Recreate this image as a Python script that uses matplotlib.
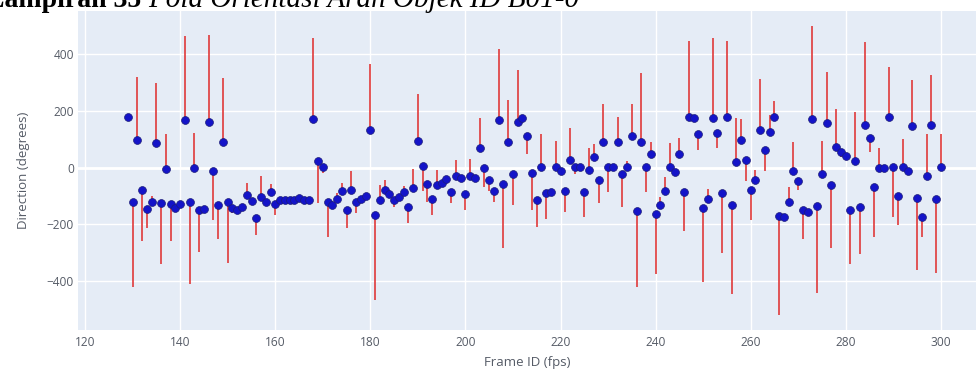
import matplotlib
matplotlib.use("Agg")
import matplotlib.pyplot as plt
import numpy as np

# =============================================================================
# DATA
# =============================================================================
frame_ids = np.arange(129, 301)

direction = [
    178, -121, 99, -80, -146, -122, 88, -125, -4, -129,          # 129-138
    -141, -127, 169, -122, 0, -151, -146, 162, -12, -133,        # 139-148
    91, -122, -144, -151, -140, -98, -116, -176, -102, -120,     # 149-158
    -87, -127, -115, -115, -115, -115, -106, -115, -115, 172,    # 159-168
    24, 2, -121, -131, -112, -84, -148, -80, -121, -111,         # 169-178
    -99, 133, -167, -115, -79, -92, -115, -105, -85, -139,       # 179-188
    -72, 94, 7, -56, -111, -60, -54, -40, -85, -28,              # 189-198
    -38, -94, -31, -35, 69, 0, -42, -81, 168, -56,               # 199-208
    91, -21, 162, 176, 113, -18, -114, 1, -89, -87,              # 209-218
    4, -12, -84, 27, 2, 1, -87, -8, 36, -42,                     # 219-228
    91, 2, 2, 91, -24, 2, 112, -154, 89, 1,                      # 229-238
    47, -165, -133, -84, 2, -14, 47, -87, 179, 174,              # 239-248
    119, -141, -109, 174, 121, -89, 179, -133, 21, 96,           # 249-258
    26, -80, -44, 134, 62, 125, 179, -169, -173, -120,           # 259-268
    -13, -46, -148, -155, 171, -135, -21, 159, -61, 73,          # 269-278
    54, 41, -149, 24, -140, 152, 104, -69, -1, 0,                # 279-288
    178, 4, -99, 2, -13, 147, -106, -175, -28, 149,              # 289-298
    -111, 4,                                                     # 299-300
]

# end of the red line drawn from each point (same value = no line)
line_end = [
    178, -420, 320, -259, -212, -99, 299, -341, 119, -258,
    -141, -127, 466, -412, 122, -299, -146, 468, -185, -253,
    315, -335, -161, -151, -140, -55, -132, -238, -29, -120,
    -58, -166, -115, -115, -115, -115, -106, -115, -115, 459,
    -124, -18, -244, -131, -91, -55, -213, -12, -161, -111,
    -99, 365, -467, -61, -44, -92, -138, -105, -65, -194,
    -6, 260, -81, -120, -167, -9, -54, -28, -126, 27,
    -38, -149, 29, -35, 174, -69, -82, -120, 418, -282,
    238, -132, 346, 176, 47, -149, -208, 118, -182, -87,
    93, -22, -156, 139, -24, 1, -173, 71, 84, -124,
    224, -87, 2, 180, -138, 25, 224, -420, 333, -87,
    92, -375, -102, -34, 88, -28, 106, -222, 446, 174,
    62, -405, -76, 459, 68, -300, 448, -447, 174, 171,
    -46, -186, -7, 312, -12, 186, 234, -520, -173, -67,
    92, -79, -252, -155, 499, -444, 94, 339, -285, 208,
    36, 41, -340, 196, -305, 444, 54, -244, 69, 0,
    354, -173, -201, 102, -27, 308, -361, -244, 119, 327,
    -372, 119,
]

x_ticks = [120, 140, 160, 180, 200, 220, 240, 260, 280, 300]
y_ticks = [-400, -200, 0, 200, 400]

TITLE_BOLD = "Lampiran 35 "
TITLE_ITALIC = "Pola Orientasi Arah Objek ID B01-0"
X_LABEL = "Frame ID (fps)"
Y_LABEL = "Direction (degrees)"

assert len(direction) == len(frame_ids) == len(line_end)

# =============================================================================
# PLOT
# =============================================================================
plt.rcParams["font.family"] = ["Open Sans", "DejaVu Sans"]
TEXT_COLOR = "#555b66"

fig = plt.figure(figsize=(9.76, 3.74), dpi=100)
ax = fig.add_axes([0.0799, 0.1176, 0.9201, 0.853])
ax.set_facecolor("#E5ECF6")

ax.vlines(frame_ids, direction, line_end, color="#e03a3a", linewidth=1.2,
          zorder=2)
ax.scatter(frame_ids, direction, s=32, color="#1414c8", edgecolor="#1c1c78",
           linewidth=0.5, zorder=3)

ax.set_xlim(118.5, 307.4)
ax.set_ylim(-573, 553)
ax.set_xticks(x_ticks)
ax.set_yticks(y_ticks)
ax.set_yticklabels([f"{v}".replace("-", "\u2212") for v in y_ticks])

ax.grid(True, color="white", linewidth=1.0, zorder=0)
ax.axhline(0, color="white", linewidth=2.0, zorder=1)
ax.set_axisbelow(True)
for s in ax.spines.values():
    s.set_visible(False)
ax.tick_params(axis="x", length=0, labelsize=8.6, colors=TEXT_COLOR, pad=4)
ax.tick_params(axis="y", length=0, labelsize=8.6, colors=TEXT_COLOR, pad=3)

ax.set_xlabel(X_LABEL, fontsize=9.5, color=TEXT_COLOR, labelpad=5)
ax.set_ylabel(Y_LABEL, fontsize=9.5, color=TEXT_COLOR, labelpad=12)

# title strip at the top of the page, partly cut off in the reference
t1 = fig.text(-0.014, 0.982, TITLE_BOLD, fontsize=20, fontweight="bold",
              family="Liberation Serif", va="baseline", ha="left")
fig.canvas.draw()
bb = t1.get_window_extent(renderer=fig.canvas.get_renderer())
x_next = bb.x1 / fig.bbox.width
fig.text(x_next, 0.982, TITLE_ITALIC, fontsize=21, style="italic",
         family="Liberation Serif", va="baseline", ha="left")

fig.savefig("out.png", dpi=100)
